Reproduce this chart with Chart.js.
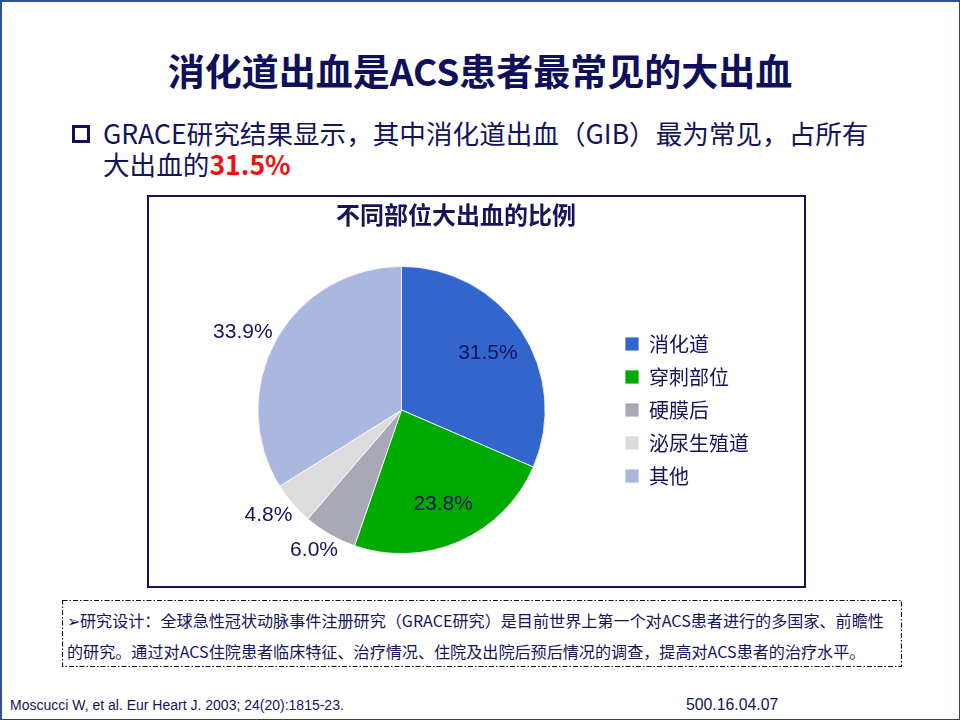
<!DOCTYPE html>
<html>
<head>
<meta charset="utf-8">
<script src="https://cdn.jsdelivr.net/npm/chart.js@4.4.1/dist/chart.umd.min.js"></script>
<style>
	html, body { margin: 0; padding: 0; background: #fff; }
	#slide {
		position: relative; width: 960px; height: 720px;
		font-family: "Noto Sans CJK SC", sans-serif; color: #14145a; overflow: hidden;
	}
	.frame {
		position: absolute; left: 0; top: 0; width: 960px; height: 720px; box-sizing: border-box;
		border-left: 2px solid #2a539c; border-top: 2px solid #2a539c;
		border-right: 1.5px solid #2e4170; border-bottom: 1.5px solid #2e4170;
	}
	.title { position: absolute; left: 0; width: 960px; top: 46px; text-align: center; font-size: 37px; font-weight: bold; color: #0f0f5c; line-height: 48px; }
	.bullet { position: absolute; left: 72px; top: 125px; width: 18px; height: 18px; box-sizing: border-box; border: 3.5px solid #0f0f5c; }
	.point { position: absolute; left: 103px; top: 117px; font-size: 26.6px; line-height: 31px; color: #14145a; }
	.point b { color: #ee1111; }
	#chartBox { position: absolute; left: 147px; top: 195px; width: 659px; height: 393px; box-sizing: border-box; border: 2px solid #14145a; }
	#chartBox canvas { position: absolute; left: 0; top: 0; }
	.ctitle { position: absolute; left: 0; width: 614px; top: 2px; text-align: center; font-size: 24px; font-weight: bold; color: #14145a; line-height: 30px; }
	#note { position: absolute; left: 62px; top: 600px; width: 840px; height: 67px; }
	#note svg { position: absolute; left: 0; top: 0; }
	#note p { position: absolute; left: 5px; top: 5px; margin: 0; font-size: 16.1px; line-height: 31px; color: #14145a; white-space: nowrap; }
	.ref { position: absolute; left: 10px; top: 697px; font-family: "Liberation Sans", Arial, sans-serif; font-size: 14px; color: #14145a; }
	.code { position: absolute; left: 686px; top: 696px; font-family: "Liberation Sans", Arial, sans-serif; font-size: 15.8px; color: #14145a; }
</style>
</head>
<body>
<div id="slide">
	<div class="frame"></div>
	<div class="title">消化道出血是ACS患者最常见的大出血</div>
	<div class="bullet"></div>
	<div class="point">GRACE研究结果显示，其中消化道出血（GIB）最为常见，占所有<br>大出血的<b>31.5%</b></div>

	<div id="chartBox">
		<canvas id="myChart" width="655" height="389"></canvas>
		<div class="ctitle">不同部位大出血的比例</div>
	</div>

	<div id="note">
		<svg width="840" height="67"><rect x="0.5" y="0.5" width="839" height="66" fill="none" stroke="#111" stroke-width="1.2" stroke-dasharray="5 2 1.5 2"/></svg>
		<p>➢研究设计：全球急性冠状动脉事件注册研究（GRACE研究）是目前世界上第一个对ACS患者进行的多国家、前瞻性<br>的研究。通过对ACS住院患者临床特征、治疗情况、住院及出院后预后情况的调查，提高对ACS患者的治疗水平。</p>
	</div>

	<div class="ref">Moscucci W, et al. Eur Heart J. 2003; 24(20):1815-23.</div>
	<div class="code">500.16.04.07</div>
</div>

<script>
const categories = ['消化道', '穿刺部位', '硬膜后', '泌尿生殖道', '其他'];
const shares = [31.5, 23.8, 6.0, 4.8, 33.9];
const sliceColors = ['#3366cc', '#00aa00', '#a8a8b6', '#dcdcdc', '#aab8e0'];

// percent labels: the two big slices get theirs inside, the rest sit just outside the rim
const pctLabels = {
	id: 'pctLabels',
	afterDatasetsDraw(chart, args, opts) {
		const c = chart.ctx;
		const arcs = chart.getDatasetMeta(0).data;
		c.save();
		c.font = '21px "Liberation Sans", Arial, sans-serif';
		c.fillStyle = '#14145a';
		c.textAlign = 'center';
		c.textBaseline = 'middle';
		arcs.forEach((arc, i) => {
			const p = arc.getProps(['x', 'y', 'startAngle', 'endAngle', 'outerRadius'], true);
			const mid = (p.startAngle + p.endAngle) / 2;
			const cos = Math.cos(mid), sin = Math.sin(mid);
			const txt = chart.data.datasets[0].data[i].toFixed(1) + '%';
			let x, y;
			if (opts.inside.includes(i)) {
				const d = p.outerRadius * 0.72;
				x = p.x + cos * d;
				y = p.y + sin * d;
			} else {
				const d = p.outerRadius + 8;
				const w = c.measureText(txt).width;
				x = p.x + cos * d + cos * w / 2;
				y = p.y + sin * d + sin * 10;
			}
			c.fillText(txt, x, y);
		});
		c.restore();
	}
};

document.addEventListener('DOMContentLoaded', () => {
	const ctx = document.getElementById('myChart');

	new Chart(ctx, {
		type: 'pie',
		data: {
			labels: categories,
			datasets: [
				{
					data: shares,
					backgroundColor: sliceColors,
					borderColor: '#ffffff',
					borderWidth: 0.8,
				},
			],
		},
		plugins: [pctLabels],
		options: {
			responsive: false,
			animation: false,
			layout: {
				padding: { left: 42, right: 45, top: 69, bottom: 32 },
			},
			plugins: {
				title: { display: false },
				tooltip: { enabled: false },
				legend: {
					position: 'right',
					labels: {
						boxWidth: 14,
						boxHeight: 14,
						padding: 13,
						color: '#14145a',
						font: { family: '"Noto Sans CJK SC", sans-serif', size: 20 },
					},
				},
				pctLabels: { inside: [0, 1] },
			},
		},
	});
});
</script>
</body>
</html>
